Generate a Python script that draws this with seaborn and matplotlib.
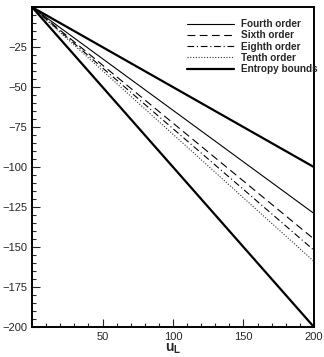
import pandas as pd
import matplotlib.pyplot as plt
import seaborn as sns
from matplotlib.ticker import MultipleLocator, FixedLocator

# End values at u_L = 200 (all lines start at 0)
x_vals = [0, 200]
series_names = ['Fourth order', 'Sixth order', 'Eighth order', 'Tenth order', 'Entropy bounds']
end_fourth = -129
end_sixth = -145
end_eighth = -152
end_tenth = -159
end_entropy_upper = -100
end_entropy_lower = -200

rows = []
for name, end in [('Fourth order', end_fourth), ('Sixth order', end_sixth),
                  ('Eighth order', end_eighth), ('Tenth order', end_tenth),
                  ('Entropy bounds', end_entropy_upper), ('Entropy lower', end_entropy_lower)]:
    for x, y in zip(x_vals, [0, end]):
        rows.append({'series': name, 'u_L': x, 'value': y})
df = pd.DataFrame(rows)

sns.set_style('ticks')
plt.rcParams['font.family'] = ['Liberation Sans', 'DejaVu Sans']
plt.rcParams['mathtext.fontset'] = 'custom'
plt.rcParams['mathtext.bf'] = 'Liberation Sans:bold'
plt.rcParams['mathtext.rm'] = 'Liberation Sans'

fig = plt.figure(figsize=(3.24, 3.57), dpi=100)
ax = fig.add_axes([0.099, 0.084, 0.870, 0.896])

styles = {
    'Fourth order': dict(ls='-', lw=0.8, color='black'),
    'Sixth order': dict(ls=(0, (7, 4)), lw=0.8, color='black'),
    'Eighth order': dict(ls=(0, (6, 2.5, 1, 2.5)), lw=0.8, color='black'),
    'Tenth order': dict(ls=(0, (1, 1.5)), lw=0.8, color='#333333'),
    'Entropy bounds': dict(ls='-', lw=1.6, color='black'),
    'Entropy lower': dict(ls='-', lw=1.6, color='black'),
}
for name, st in styles.items():
    sub = df[df['series'] == name]
    sns.lineplot(data=sub, x='u_L', y='value', ax=ax, color=st['color'],
                 linestyle=st['ls'], linewidth=st['lw'],
                 label=None if name == 'Entropy lower' else name)

ax.set_xlim(0, 200)
ax.set_ylim(-200, 0)
ax.xaxis.set_major_locator(FixedLocator([50, 100, 150, 200]))
ax.xaxis.set_minor_locator(MultipleLocator(10))
ax.yaxis.set_major_locator(FixedLocator([-200, -175, -150, -125, -100, -75, -50, -25]))
ax.yaxis.set_minor_locator(MultipleLocator(5))
ax.tick_params(which='both', direction='in', top=False, right=False, labelsize=8, width=0.8)
ax.tick_params(which='major', length=6)
ax.tick_params(which='minor', length=3)
for sp in ax.spines.values():
    sp.set_linewidth(1.4)
    sp.set_color('black')

ax.set_xlabel(r'$\mathbf{u_L}$', fontsize=10, labelpad=0)
ax.set_ylabel('')

leg = ax.legend(loc='upper left', bbox_to_anchor=(0.55, 0.962), frameon=False,
                borderpad=0, borderaxespad=0, handlelength=4.7, handletextpad=0.7,
                labelspacing=0.12, prop={'weight': 'bold', 'size': 7.2})

fig.savefig('out.png', dpi=100)
